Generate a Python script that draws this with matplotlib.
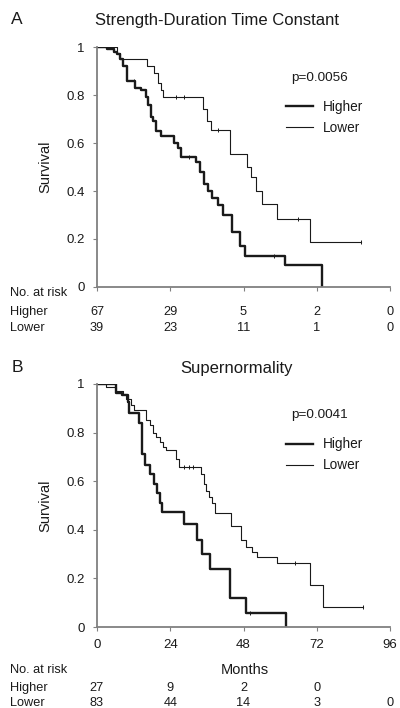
import matplotlib
matplotlib.use("Agg")
import matplotlib.pyplot as plt
import matplotlib.transforms as mtransforms

plt.rcParams["font.family"] = ["Liberation Sans", "DejaVu Sans"]

INK = "#1a1a1a"
AXIS_GREY = "#808080"

# Panel A: strength-duration time constant
a_title = "Strength-Duration Time Constant"
a_pvalue = "p=0.0056"
a_high_t = [0, 3.2, 5.5, 6.5, 7.5, 8.5, 9.9, 12.4, 14.5, 15.9, 16.7, 17.8, 18.5, 19.4,
            21.0, 25.3, 26.4, 27.4, 32.3, 33.8, 35.0, 36.5, 37.8, 39.6, 41.2, 44.2,
            46.8, 48.6, 61.7, 73.6]
a_high_s = [1, 0.99, 0.98, 0.97, 0.95, 0.92, 0.86, 0.83, 0.82, 0.79, 0.76, 0.71, 0.69, 0.65,
            0.63, 0.60, 0.58, 0.54, 0.52, 0.48, 0.43, 0.40, 0.37, 0.34, 0.30, 0.23,
            0.17, 0.13, 0.09, 0.0]
a_low_t = [0, 6.5, 7.5, 16.4, 18.8, 19.9, 21.0, 21.7, 34.8, 36.0, 37.5, 43.7, 49.2, 50.3,
           52.1, 53.9, 59.0, 69.8, 86.4]
a_low_s = [1, 0.975, 0.95, 0.92, 0.89, 0.85, 0.82, 0.79, 0.74, 0.69, 0.655, 0.553, 0.50, 0.46,
           0.40, 0.347, 0.284, 0.189, 0.189]
a_low_cens_t = [26.0, 28.6, 39.5, 65.8, 86.4]
a_low_cens_s = [0.79, 0.79, 0.655, 0.284, 0.189]
a_high_cens_t = [12.0, 30.0, 58.0]
a_high_cens_s = [0.86, 0.54, 0.13]
a_risk_high = ["67", "29", "5", "2", "0"]
a_risk_low = ["39", "23", "11", "1", "0"]

# Panel B: supernormality
b_title = "Supernormality"
b_pvalue = "p=0.0041"
b_high_t = [0, 6.2, 8.2, 10.0, 10.5, 13.8, 14.9, 15.7, 17.5, 18.6, 19.7, 20.8, 21.3, 28.6,
            32.9, 34.5, 36.9, 43.7, 48.8, 62.0]
b_high_s = [1, 0.963, 0.955, 0.925, 0.88, 0.84, 0.71, 0.667, 0.63, 0.59, 0.55, 0.51, 0.475, 0.423,
            0.36, 0.30, 0.238, 0.12, 0.058, 0.0]
b_low_t = [0, 3.0, 6.2, 8.4, 9.5, 11.3, 12.2, 16.0, 17.5, 18.3, 19.4, 20.5, 21.6, 22.7, 25.9,
           27.0, 34.0, 35.0, 35.8, 36.7, 37.8, 38.8, 43.8, 47.1, 48.7, 50.7, 52.5, 59.0,
           69.8, 74.1, 87.1]
b_low_s = [1, 0.986, 0.973, 0.959, 0.937, 0.914, 0.893, 0.852, 0.83, 0.80, 0.78, 0.76, 0.74, 0.73,
           0.69, 0.66, 0.63, 0.59, 0.56, 0.537, 0.51, 0.468, 0.414, 0.359, 0.331, 0.31, 0.29,
           0.263, 0.174, 0.082, 0.082]
b_low_cens_t = [28.5, 30.0, 31.5, 64.8, 87.1]
b_low_cens_s = [0.66, 0.66, 0.66, 0.263, 0.082]
b_high_cens_t = [50.0]
b_high_cens_s = [0.058]
b_risk_high = ["27", "9", "2", "0", ""]
b_risk_low = ["83", "44", "14", "3", "0"]

month_ticks = [0, 24, 48, 72, 96]
surv_ticks = [0, 0.2, 0.4, 0.6, 0.8, 1.0]
surv_labels = ["0", "0.2", "0.4", "0.6", "0.8", "1"]

W, H = 400, 708


def fy(px):
    """Figure fraction from a pixel row."""
    return 1 - px / H


def draw_panel(ax, high_t, high_s, low_t, low_s, high_cens, low_cens, pvalue, show_x):
    ax.step(high_t, high_s, where="post", color=INK, lw=1.7, label="Higher")
    ax.step(low_t, low_s, where="post", color=INK, lw=0.8, label="Lower")
    ax.plot(*low_cens, ls="none", marker="|", ms=2.5, mew=0.7, color=INK)
    ax.plot(*high_cens, ls="none", marker="|", ms=2.5, mew=0.7, color=INK)
    ax.set_xlim(0, 96)
    ax.set_ylim(0, 1)
    ax.set_xticks(month_ticks)
    ax.set_yticks(surv_ticks)
    ax.set_yticklabels(surv_labels)
    if not show_x:
        ax.set_xticklabels([])
    for side in ("top", "right"):
        ax.spines[side].set_visible(False)
    for side in ("left", "bottom"):
        ax.spines[side].set_color(AXIS_GREY)
        ax.spines[side].set_linewidth(1.3)
    ax.tick_params(direction="out", length=3, width=0.8, color=AXIS_GREY,
                   labelsize=9.5, labelcolor=INK, pad=6)
    ax.set_ylabel("Survival", fontsize=10.5, color=INK, labelpad=10)
    ax.text(0.758, 0.872, pvalue, transform=ax.transAxes, ha="center", va="center",
            fontsize=9.7, color=INK)
    ax.legend(loc="upper left", bbox_to_anchor=(0.645, 0.78), frameon=False,
              fontsize=9.8, handlelength=2.0, handletextpad=0.7, labelspacing=0.5,
              borderpad=0, borderaxespad=0, labelcolor=INK)


def risk_table(fig, ax, high, low, y_head, y_high, y_low):
    fig.text(10 / W, fy(y_head), "No. at risk", fontsize=9.2, color=INK, va="center")
    fig.text(10 / W, fy(y_high), "Higher", fontsize=9.2, color=INK, va="center")
    fig.text(10 / W, fy(y_low), "Lower", fontsize=9.2, color=INK, va="center")
    trans = mtransforms.blended_transform_factory(ax.transData, fig.transFigure)
    for m, h, l in zip(month_ticks, high, low):
        ax.text(m, fy(y_high), h, transform=trans, ha="center", va="center",
                fontsize=9.2, color=INK, clip_on=False)
        ax.text(m, fy(y_low), l, transform=trans, ha="center", va="center",
                fontsize=9.2, color=INK, clip_on=False)


fig = plt.figure(figsize=(W / 100, H / 100), dpi=100)
fig.patch.set_facecolor("white")

left = 97 / W
width = (390 - 97) / W
ax_a = fig.add_axes([left, fy(287), width, (287 - 47) / H])
ax_b = fig.add_axes([left, fy(627), width, (627 - 384) / H])

draw_panel(ax_a, a_high_t, a_high_s, a_low_t, a_low_s,
           (a_high_cens_t, a_high_cens_s), (a_low_cens_t, a_low_cens_s), a_pvalue, False)
draw_panel(ax_b, b_high_t, b_high_s, b_low_t, b_low_s,
           (b_high_cens_t, b_high_cens_s), (b_low_cens_t, b_low_cens_s), b_pvalue, True)

fig.text(17 / W, fy(19), "A", fontsize=12.5, color=INK, ha="center", va="center")
fig.text(217 / W, fy(20), a_title, fontsize=12, color=INK, ha="center", va="center")
fig.text(17 / W, fy(367), "B", fontsize=12.5, color=INK, ha="center", va="center")
fig.text(237 / W, fy(368), b_title, fontsize=12, color=INK, ha="center", va="center")
fig.text(245 / W, fy(670), "Months", fontsize=10.5, color=INK, ha="center", va="center")

risk_table(fig, ax_a, a_risk_high, a_risk_low, 293, 312, 328)
risk_table(fig, ax_b, b_risk_high, b_risk_low, 670, 688, 703)

fig.savefig("out.png", dpi=100, facecolor="white")
